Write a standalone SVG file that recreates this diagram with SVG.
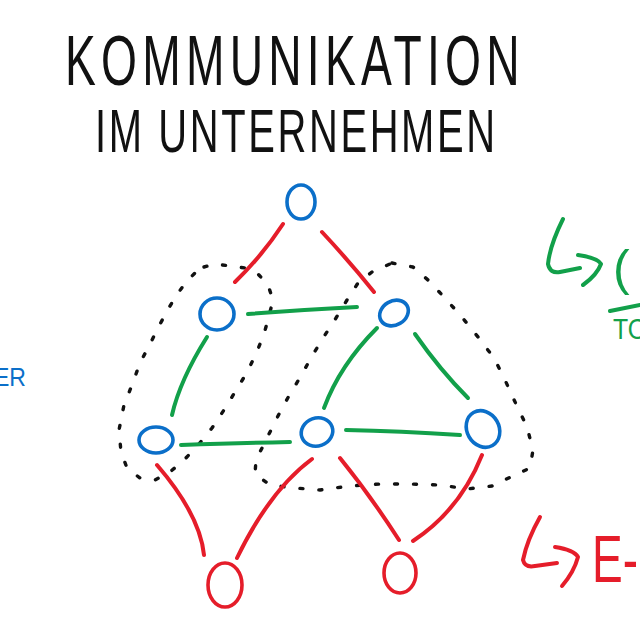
<svg xmlns="http://www.w3.org/2000/svg" width="640" height="640" viewBox="0 0 640 640">
<style>
.title{font-family:"Liberation Sans","DejaVu Sans",sans-serif;fill:#111;}
.node{fill:none;stroke-width:3.6;stroke-linecap:round;}
.blue{stroke:#0b6fc9;}
.red{stroke:#e51d2a;}
.e{fill:none;stroke-width:4;stroke-linecap:round;stroke-linejoin:round;}
.er{stroke:#e51d2a;}
.eg{stroke:#12a04a;}
.dots{fill:none;stroke:#111;stroke-width:3.4;stroke-linecap:round;stroke-dasharray:3 16;stroke-linejoin:round;}
.hand{font-family:"Liberation Sans","DejaVu Sans",sans-serif;}
</style>
<rect width="640" height="640" fill="#fff"/>
<g id="title">
<text class="title" transform="translate(65,85) scale(1.05,1.6)" x="0" y="0" font-size="44" textLength="433" lengthAdjust="spacing">KOMMUNIKATION</text>
<text class="title" transform="translate(95,152) scale(1.05,1.6)" x="0" y="0" font-size="38" textLength="381" lengthAdjust="spacing">IM UNTERNEHMEN</text>
</g>
<g id="regions">
<path class="dots" d="M204,267 L215,264 L230,266 L245,268 L258,274 L268,285 L273,300 L269,316 L264,334 L256,354 L246,374 L235,392 L224,410 L212,428 L199,444 L185,459 L170,472 L155,480 L140,478 L127,468 L121,452 L119,430 L124,405 L132,385 L140,363 L149,346 L158,328 L167,311 L176,296 L186,282 L196,272 Z"/>
<path class="dots" d="M392,263 L413,267 L428,280 L444,297 L461,316 L478,337 L494,358 L505,380 L516,404 L527,427 L533,450 L530,468 L515,475 L492,486 L467,489 L440,485 L410,484 L380,484 L350,486 L320,490 L295,488 L270,485 L255,474 L256,460 L262,448 L271,430 L280,412 L290,394 L301,376 L312,356 L325,335 L336,318 L347,300 L358,283 L372,272 Z"/>
</g>
<g id="connectors">
<path class="e er" d="M283,224 Q262,256 235,282"/>
<path class="e er" d="M322,232 Q350,262 374,292"/>
<path class="e er" d="M157,465 Q200,515 204,555"/>
<path class="e er" d="M312,459 Q270,490 237,558"/>
<path class="e er" d="M340,458 Q370,495 399,540"/>
<path class="e er" d="M482,455 Q460,510 413,541"/>
<path class="e eg" d="M248,314 Q300,310 357,307"/>
<path class="e eg" d="M207,337 Q180,380 172,415"/>
<path class="e eg" d="M181,445 Q240,443 290,442"/>
<path class="e eg" d="M377,328 Q340,365 324,408"/>
<path class="e eg" d="M415,334 Q440,370 468,398"/>
<path class="e eg" d="M346,430 Q400,431 460,435"/>
</g>
<g id="node-top"><ellipse class="node blue" cx="301" cy="202" rx="14" ry="17"/></g>
<g id="node-mid-left"><ellipse class="node blue" cx="217" cy="314" rx="17" ry="16"/></g>
<g id="node-mid-right"><ellipse class="node blue" cx="394" cy="313" rx="15" ry="12" transform="rotate(-30 394 313)"/></g>
<g id="node-bottom-left"><ellipse class="node blue" cx="156" cy="440" rx="17" ry="13"/></g>
<g id="node-bottom-mid"><ellipse class="node blue" cx="317" cy="432" rx="16" ry="14" transform="rotate(-20 317 432)"/></g>
<g id="node-bottom-right"><ellipse class="node blue" cx="483" cy="429" rx="16" ry="19" transform="rotate(-30 483 429)"/></g>
<g id="node-red-left"><ellipse class="node red" cx="225" cy="585" rx="17" ry="22"/></g>
<g id="node-red-mid"><ellipse class="node red" cx="400" cy="573" rx="16" ry="20"/></g>
<g id="note-blue">
<text class="hand" x="-6" y="386" font-size="26" fill="#0b6fc9" textLength="32" lengthAdjust="spacingAndGlyphs">ER</text>
</g>
<g id="note-green">
<path class="e eg" d="M563,219 Q550,245 548,264 Q550,274 560,272 L580,268"/>
<path class="e eg" d="M578,255 Q598,258 601,264 Q597,275 583,285"/>
<text class="hand" x="613" y="285" font-size="50" fill="#12a04a">(</text>
<path class="e eg" d="M610,311 L640,305"/>
<text class="hand" x="613" y="339" font-size="30" fill="#12a04a" textLength="34" lengthAdjust="spacingAndGlyphs">TO</text>
</g>
<g id="note-red">
<path class="e er" d="M540,517 Q527,540 523,560 Q525,568 535,566 L557,563"/>
<path class="e er" d="M555,547 Q574,550 578,557 Q574,572 562,586"/>
<text class="hand" x="592" y="582" font-size="66" fill="#e51d2a" textLength="46" lengthAdjust="spacingAndGlyphs">E-</text>
</g>
</svg>
